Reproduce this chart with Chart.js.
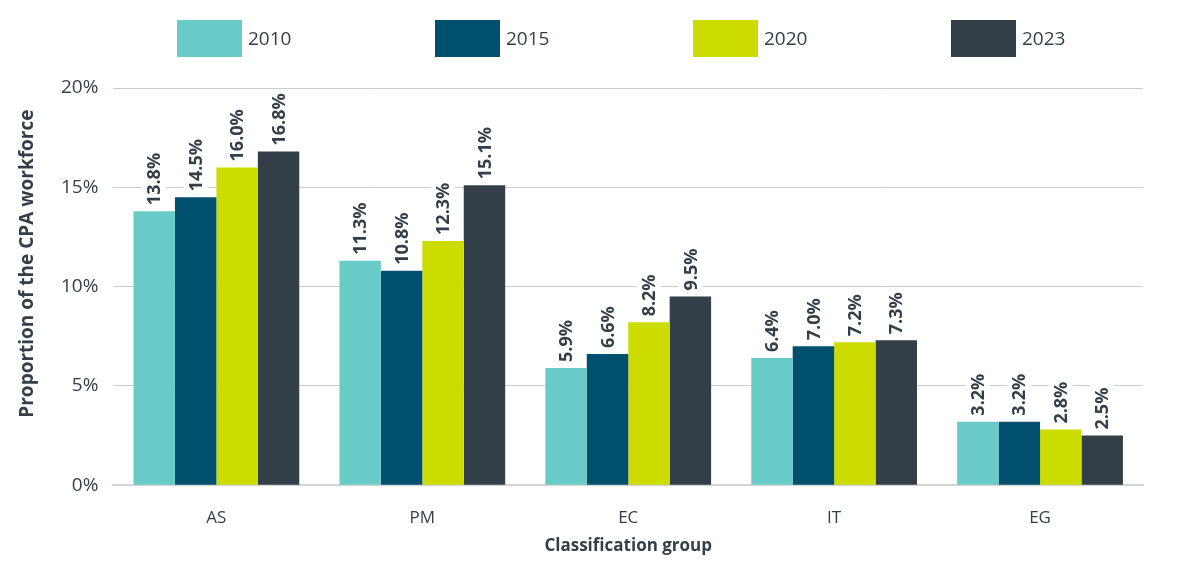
<!DOCTYPE html>
<html>
<head>
<meta charset="utf-8">
<script src="https://cdn.jsdelivr.net/npm/chart.js@4.4.0/dist/chart.umd.min.js"></script>
<style>
  body { margin: 0; background: #fff; }
  #wrap { width: 1187px; height: 567px; position: relative; }
</style>
</head>
<body>
<div id="wrap"><canvas id="myChart"></canvas></div>
<script>
const categories = ["AS", "PM", "EC", "IT", "EG"]
const years = ["2010", "2015", "2020", "2023"]
const values2010 = [13.8, 11.3, 5.9, 6.4, 3.2]
const values2015 = [14.5, 10.8, 6.6, 7.0, 3.2]
const values2020 = [16.0, 12.3, 8.2, 7.2, 2.8]
const values2023 = [16.8, 15.1, 9.5, 7.3, 2.5]
const yTicks = [0, 5, 10, 15, 20]
const yTitle = "Proportion of the CPA workforce"

const colores = ["#68cbc8", "#004f6f", "#ccdc00", "#333f48"]
const textColor = "#333f48"
const fontFamily = "'Open Sans', sans-serif"

const ctx = document.querySelector("#myChart")

// leyenda dibujada a mano, con cajas grandes y mucho espacio entre items
const bigLegend = {
    id: "bigLegend",
    afterDraw(chart) {
        const c = chart.ctx
        const area = chart.chartArea
        const boxW = 65, boxH = 37, step = 258
        c.save()
        c.font = "19px " + fontFamily
        const lastW = boxW + 6 + c.measureText(years[years.length - 1]).width
        let x = (area.left + area.right) / 2 - ((years.length - 1) * step + lastW) / 2 - 7
        chart.data.datasets.forEach((ds, i) => {
            c.fillStyle = ds.backgroundColor
            c.fillRect(x, 20, boxW, boxH)
            c.fillStyle = textColor
            c.textAlign = "left"
            c.textBaseline = "middle"
            c.fillText(ds.label, x + boxW + 6, 20 + boxH / 2 + 1)
            x += step
        })
        c.restore()
    }
}

// titulo del eje y, un poco por encima del centro como en el original
const yAxisTitle = {
    id: "yAxisTitle",
    afterDraw(chart) {
        const c = chart.ctx
        const area = chart.chartArea
        c.save()
        c.font = "bold 19px " + fontFamily
        c.fillStyle = textColor
        c.textAlign = "center"
        c.textBaseline = "middle"
        c.translate(28, (area.top + area.bottom) / 2 - 23)
        c.rotate(-Math.PI / 2)
        c.fillText(yTitle, 0, 0)
        c.restore()
    }
}

// etiquetas verticales sobre cada barra
const barLabels = {
    id: "barLabels",
    afterDatasetsDraw(chart) {
        const c = chart.ctx
        c.save()
        c.font = "bold 18px " + fontFamily
        chart.data.datasets.forEach((ds, i) => {
            chart.getDatasetMeta(i).data.forEach((bar, j) => {
                const text = ds.data[j].toFixed(1) + "%"
                const w = c.measureText(text).width
                c.save()
                c.translate(bar.x, bar.y - 6)
                c.rotate(-Math.PI / 2)
                c.fillStyle = "#ffffff"
                c.fillRect(-2, -12, w + 5, 24)
                c.fillStyle = textColor
                c.textAlign = "left"
                c.textBaseline = "middle"
                c.fillText(text, 0, 1)
                c.restore()
            })
        })
        c.restore()
    }
}

const series = [values2010, values2015, values2020, values2023]

new Chart(ctx, {
    type: "bar",
    data: {
        labels: categories,
        datasets: series.map((data, i) => ({
            label: years[i],
            data: data,
            backgroundColor: colores[i],
            categoryPercentage: 0.805,
            barPercentage: 1.0,
        })),
    },
    options: {
        responsive: true,
        maintainAspectRatio: false,
        animation: false,
        layout: {
            padding: { top: 88, right: 44, left: 46, bottom: 11 },
        },
        plugins: {
            legend: { display: false },
            tooltip: { enabled: false },
        },
        scales: {
            x: {
                grid: { display: false },
                border: { color: "#d4d4d4", width: 2 },
                ticks: {
                    color: textColor,
                    font: { family: fontFamily, size: 17 },
                    padding: 15,
                },
                title: {
                    display: true,
                    text: "Classification group",
                    color: textColor,
                    font: { family: fontFamily, size: 17, weight: "bold" },
                    padding: { top: -8, bottom: 0 },
                },
            },
            y: {
                min: 0,
                max: 20,
                afterBuildTicks: (axis) => {
                    axis.ticks = yTicks.map(v => ({ value: v }))
                },
                grid: { color: "#cccccc", drawTicks: false },
                border: { display: false },
                ticks: {
                    color: textColor,
                    font: { family: fontFamily, size: 19 },
                    padding: 15,
                    callback: (v) => v + "%",
                },
            },
        },
    },
    plugins: [bigLegend, yAxisTitle, barLabels],
});
</script>
</body>
</html>
